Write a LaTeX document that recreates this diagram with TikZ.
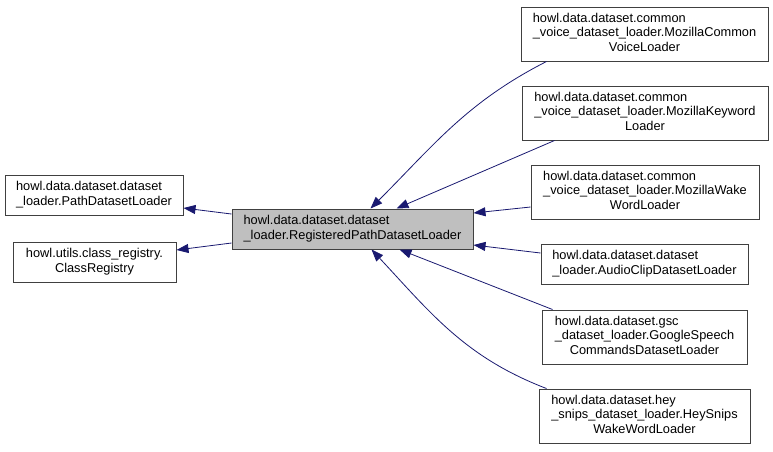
\documentclass[tikz,border=0pt]{standalone}
\usepackage{fontspec}
\setmainfont{Liberation Sans}
\usetikzlibrary{arrows.meta}
\definecolor{edgeblue}{HTML}{191970}
\newcommand{\lastline}[1]{\multicolumn{1}{@{}c@{}}{#1}}

\begin{document}
\begin{tikzpicture}[x=1pt,y=-1pt,
    cls/.style={draw=black!75, line width=1pt, inner sep=0pt, minimum height=40pt,
      font=\fontsize{12.8}{14.5}\selectfont},
    tallcls/.style={cls, minimum height=54pt},
    basecls/.style={cls, fill=black!25},
    inherit/.style={draw=edgeblue, line width=0.8pt, -{Triangle[length=12pt,width=9pt]}}]
        \useasboundingbox (0,0) rectangle (773,451);
        % bases on the left
        \node[cls, minimum width=178pt] (pdl) at (94,195)
            {\begin{tabular}{@{}l@{}}howl.data.dataset.dataset\\\lastline{\_loader.PathDatasetLoader}\end{tabular}};
        \node[cls, minimum width=163pt] (creg) at (94.5,262)
            {\begin{tabular}{@{}l@{}}howl.utils.class\_registry.\\\lastline{ClassRegistry}\end{tabular}};
        % the class itself
        \node[basecls, minimum width=241pt] (reg) at (352.5,229)
            {\begin{tabular}{@{}l@{}}howl.data.dataset.dataset\\\lastline{\_loader.RegisteredPathDatasetLoader}\end{tabular}};
        % derived classes
        \node[tallcls, minimum width=247pt] (cv) at (644.5,34)
            {\begin{tabular}{@{}l@{}}howl.data.dataset.common\\\_voice\_dataset\_loader.MozillaCommon\\\lastline{VoiceLoader}\end{tabular}};
        \node[tallcls, minimum width=246pt] (kw) at (645,113)
            {\begin{tabular}{@{}l@{}}howl.data.dataset.common\\\_voice\_dataset\_loader.MozillaKeyword\\\lastline{Loader}\end{tabular}};
        \node[tallcls, minimum width=228pt] (wake) at (645,192)
            {\begin{tabular}{@{}l@{}}howl.data.dataset.common\\\_voice\_dataset\_loader.MozillaWake\\\lastline{WordLoader}\end{tabular}};
        \node[cls, minimum width=207pt] (audio) at (644.5,264)
            {\begin{tabular}{@{}l@{}}howl.data.dataset.dataset\\\lastline{\_loader.AudioClipDatasetLoader}\end{tabular}};
        \node[tallcls, minimum width=205pt] (gsc) at (644.5,337)
            {\begin{tabular}{@{}l@{}}howl.data.dataset.gsc\\\_dataset\_loader.GoogleSpeech\\\lastline{CommandsDatasetLoader}\end{tabular}};
        \node[tallcls, minimum width=211pt] (hey) at (644.5,416)
            {\begin{tabular}{@{}l@{}}howl.data.dataset.hey\\\_snips\_dataset\_loader.HeySnips\\\lastline{WakeWordLoader}\end{tabular}};
        % inheritance arrows
        \draw[inherit] ([yshift=15pt]reg.west) -- ([yshift=-13pt]pdl.east);
        \draw[inherit] ([yshift=-14pt]reg.west) -- ([yshift=12pt]creg.east);
        \draw[inherit] ([xshift=26pt]cv.south west) to[out=207,in=45] ([xshift=18pt]reg.north);
        \draw[inherit] ([xshift=33pt]kw.south west) -- ([xshift=44pt]reg.north);
        \draw[inherit] ([yshift=-15pt]wake.west) -- ([yshift=16pt]reg.east);
        \draw[inherit] ([yshift=11pt]audio.west) -- ([yshift=-16pt]reg.east);
        \draw[inherit] ([xshift=11pt]gsc.north west) -- ([xshift=47pt]reg.south);
        \draw[inherit] ([xshift=8pt]hey.north west) to[out=159,in=-47] ([xshift=19pt]reg.south);
    \end{tikzpicture}
\end{document}
